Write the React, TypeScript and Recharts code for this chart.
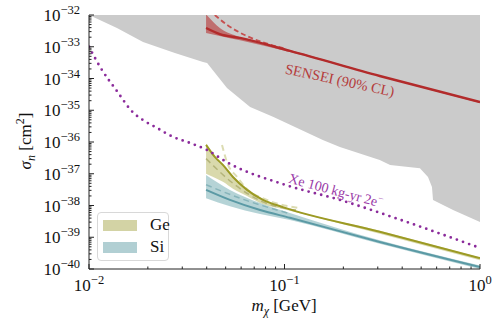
import React from 'react';
import { ComposedChart, Area, Line, XAxis, YAxis, ReferenceDot } from 'recharts';

const FONT = '"Liberation Serif", "DejaVu Serif", serif';

// excluded region (grey), lower edge; top edge is the plot top
const exclMass = [0.01, 0.0139, 0.0189, 0.0275, 0.0383, 0.0402, 0.0508, 0.0667, 0.0873, 0.157, 0.192, 0.307, 0.347, 0.493, 0.542, 0.568, 0.575, 0.728, 1.0];
const exclSigma = [1e-32, 3.9e-33, 1.4e-33, 6.3e-34, 3.3e-34, 3.1e-34, 5.0e-35, 1.26e-35, 6.2e-36, 1.15e-36, 6.9e-37, 2.7e-37, 1.9e-37, 1.5e-37, 7.9e-38, 3.8e-38, 1.5e-38, 7.2e-39, 3.0e-39];

// SENSEI 90% CL
const senseiMass = [0.0397, 0.0467, 0.0592, 0.1066, 0.307, 1.0];
const senseiLine = [3.9e-33, 2.5e-33, 1.9e-33, 7.4e-34, 1.2e-34, 1.8e-35];
const senseiHi = [1.05e-32, 3.9e-33, 2.0e-33, 7.9e-34, 1.25e-34, 1.9e-35];
const senseiLo = [2.7e-33, 2.2e-33, 1.6e-33, 6.8e-34, 1.15e-34, 1.7e-35];
const senseiDashMass = [0.044, 0.0508, 0.063, 0.077, 0.1];
const senseiDash = [1e-32, 4.9e-33, 2.3e-33, 1.4e-33, 8.9e-34];

// Xe 100 kg-yr 2e-
const xeMass = [0.01, 0.0114, 0.0139, 0.0168, 0.0189, 0.0223, 0.0269, 0.0329, 0.0401, 0.0514, 0.1007, 0.192, 0.424, 1.0];
const xeSigma = [1e-33, 2.3e-34, 4e-35, 8.5e-36, 4.9e-36, 2.75e-36, 1.45e-36, 9.3e-37, 5.6e-37, 2.2e-37, 4.5e-38, 1.5e-38, 3.0e-39, 4.6e-40];

// Ge
const geMass = [0.0397, 0.044, 0.0484, 0.0545, 0.0643, 0.0776, 0.098, 0.307, 1.0];
const geLine = [8.1e-37, 3.4e-37, 1.9e-37, 7.9e-38, 3.1e-38, 1.5e-38, 8.9e-39, 1.5e-39, 2.2e-40];
const geHi = [9e-37, 3.6e-37, 2.0e-37, 8.3e-38, 3.3e-38, 1.6e-38, 9.3e-39, 1.6e-39, 2.3e-40];
const geLo = [1.0e-37, 7.5e-38, 5.6e-38, 3.4e-38, 2.0e-38, 1.1e-38, 7.8e-39, 1.3e-39, 1.9e-40];
const geDashMass = [0.0479, 0.0508, 0.0572, 0.065, 0.0813, 0.12];
const geDash = [8.1e-37, 2.3e-37, 7.9e-38, 3.1e-38, 1.5e-38, 8.3e-39];
const geDash2Mass = [0.0397, 0.0545, 0.0776, 0.12];
const geDash2 = [3e-37, 5e-38, 1.3e-38, 7e-39];

// Si
const siMass = [0.0397, 0.0526, 0.075, 0.1066, 0.307, 1.0];
const siLine = [3.1e-38, 1.5e-38, 7.2e-39, 4.1e-39, 7.1e-40, 1.15e-40];
const siHi = [9.1e-38, 3.1e-38, 1.2e-38, 5.8e-39, 8e-40, 1.3e-40];
const siLo = [1.7e-38, 9.5e-39, 5.4e-39, 3.5e-39, 6.2e-40, 1e-40];
const siDashMass = [0.0397, 0.0592, 0.1066];
const siDash = [4.5e-38, 1.7e-38, 5.5e-39];

const xMajor = [0.01, 0.1, 1];
const yMajor = [1e-40, 1e-39, 1e-38, 1e-37, 1e-36, 1e-35, 1e-34, 1e-33, 1e-32];

const withMinor = (majors: number[]) => {
  const out: number[] = [];
  majors.forEach((m, i) => {
    out.push(m);
    if (i < majors.length - 1) for (let k = 2; k <= 9; k++) out.push(m * k);
  });
  return out;
};
const xTicks = withMinor(xMajor);
const yTicks = withMinor(yMajor);

const pts = (m: number[], s: number[]) => m.map((x, i) => ({ m: x, s: s[i] }));
const band = (m: number[], lo: number[], hi: number[]) => m.map((x, i) => ({ m: x, r: [lo[i], hi[i]] }));

const exclData = exclMass.map((x, i) => ({ m: x, r: [exclSigma[i], 1e-32] }));

const isMajor = (v: number) => {
  const e = Math.log10(v);
  return Math.abs(e - Math.round(e)) < 1e-6;
};
const expo = (v: number) => {
  const e = Math.round(Math.log10(v));
  return e < 0 ? '\u2212' + Math.abs(e) : String(e);
};

const makeTick = (side: string) => (props: any) => {
  const { x, y, payload } = props;
  const v = payload.value;
  const major = isMajor(v);
  const len = major ? 5 : 2.5;
  let tl = null;
  if (side === 'left') tl = <line x1={x} x2={x + len} y1={y} y2={y} stroke="#222" />;
  if (side === 'right') tl = <line x1={x} x2={x - len} y1={y} y2={y} stroke="#222" />;
  if (side === 'bottom') tl = <line x1={x} x2={x} y1={y} y2={y - len} stroke="#222" />;
  if (side === 'top') tl = <line x1={x} x2={x} y1={y} y2={y + len} stroke="#222" />;
  let lab = null;
  if (major && side === 'left') {
    lab = (
      <text x={x - 9} y={y + 6} textAnchor="end" fontFamily={FONT} fontSize={17} fill="#111">
        10<tspan dy={-7} fontSize={12.5}>{expo(v)}</tspan>
      </text>
    );
  }
  if (major && side === 'bottom') {
    lab = (
      <text x={x} y={y + 22} textAnchor="middle" fontFamily={FONT} fontSize={17} fill="#111">
        10<tspan dy={-7} fontSize={12.5}>{expo(v)}</tspan>
      </text>
    );
  }
  return (
    <g>
      {tl}
      {lab}
    </g>
  );
};

const YLabel = () => (
  <text x={31} y={141} transform="rotate(-90 31 141)" textAnchor="middle" fontFamily={FONT} fontSize={17} fill="#111">
    <tspan fontStyle="italic">σ</tspan>
    <tspan fontStyle="italic" fontSize={12} dy={4}>n</tspan>
    <tspan dy={-4}> [cm</tspan>
    <tspan fontSize={12} dy={-7}>2</tspan>
    <tspan dy={7}>]</tspan>
  </text>
);

const XLabel = () => (
  <text x={284} y={311} textAnchor="middle" fontFamily={FONT} fontSize={17} fill="#111">
    <tspan fontStyle="italic">m</tspan>
    <tspan fontStyle="italic" fontSize={12} dy={4}>χ</tspan>
    <tspan dy={-4}> [GeV]</tspan>
  </text>
);

const rotatedText = (txt: React.ReactNode, angle: number, color: string, size: number) => (p: any) => (
  <text
    x={p.cx}
    y={p.cy}
    textAnchor="middle"
    dominantBaseline="central"
    transform={`rotate(${angle} ${p.cx} ${p.cy})`}
    fontFamily={FONT}
    fontSize={size}
    fill={color}
  >
    {txt}
  </text>
);

export default function App() {
  return (
    <div style={{ position: 'absolute', left: 0, top: 0, width: 493, height: 320, background: '#fff' }}>
      <ComposedChart width={493} height={320} margin={{ top: 15, right: 13, bottom: 0, left: 0 }}>
        <XAxis
          xAxisId="b"
          type="number"
          dataKey="m"
          scale="log"
          domain={[0.01, 1]}
          allowDataOverflow
          ticks={xTicks}
          interval={0}
          height={51}
          tickSize={0}
          tickMargin={0}
          tickLine={false}
          axisLine={{ stroke: '#222' }}
          tick={makeTick('bottom')}
          label={{ content: () => <XLabel /> }}
        />
        <XAxis
          xAxisId="t"
          orientation="top"
          type="number"
          dataKey="m"
          scale="log"
          domain={[0.01, 1]}
          allowDataOverflow
          ticks={xTicks}
          interval={0}
          height={0}
          tickSize={0}
          tickMargin={0}
          tickLine={false}
          axisLine={{ stroke: '#222' }}
          tick={makeTick('top')}
        />
        <YAxis
          yAxisId="l"
          type="number"
          scale="log"
          domain={[1e-40, 1e-32]}
          allowDataOverflow
          ticks={yTicks}
          interval={0}
          width={89}
          tickSize={0}
          tickMargin={0}
          tickLine={false}
          axisLine={{ stroke: '#222' }}
          tick={makeTick('left')}
          label={{ content: () => <YLabel /> }}
        />
        <YAxis
          yAxisId="r"
          orientation="right"
          type="number"
          scale="log"
          domain={[1e-40, 1e-32]}
          allowDataOverflow
          ticks={yTicks}
          interval={0}
          width={0}
          tickSize={0}
          tickMargin={0}
          tickLine={false}
          axisLine={{ stroke: '#222' }}
          tick={makeTick('right')}
        />

        <Area xAxisId="b" yAxisId="l" data={exclData} dataKey="r" type="linear" fill="#cbcbcb" fillOpacity={1} stroke="none" isAnimationActive={false} />

        <Area xAxisId="b" yAxisId="l" data={band(senseiMass, senseiLo, senseiHi)} dataKey="r" type="monotone" fill="#b83232" fillOpacity={0.6} stroke="none" isAnimationActive={false} />
        <Line xAxisId="b" yAxisId="l" data={pts(senseiDashMass, senseiDash)} dataKey="s" type="monotone" stroke="#c65050" strokeWidth={1.8} strokeDasharray="5 3" dot={false} isAnimationActive={false} />
        <Line xAxisId="b" yAxisId="l" data={pts(senseiMass, senseiLine)} dataKey="s" type="monotone" stroke="#b22b2b" strokeWidth={2.5} dot={false} isAnimationActive={false} />

        <Area xAxisId="b" yAxisId="l" data={band(geMass, geLo, geHi)} dataKey="r" type="monotone" fill="#d2d29e" fillOpacity={0.85} stroke="none" isAnimationActive={false} />
        <Area xAxisId="b" yAxisId="l" data={band(siMass, siLo, siHi)} dataKey="r" type="monotone" fill="#a3c8cc" fillOpacity={0.8} stroke="none" isAnimationActive={false} />
        <Line xAxisId="b" yAxisId="l" data={pts(geDashMass, geDash)} dataKey="s" type="monotone" stroke="#dcdcb2" strokeWidth={2} strokeDasharray="6 4" dot={false} isAnimationActive={false} />
        <Line xAxisId="b" yAxisId="l" data={pts(geDash2Mass, geDash2)} dataKey="s" type="monotone" stroke="#b4b47a" strokeWidth={1.5} strokeDasharray="6 4" dot={false} isAnimationActive={false} />
        <Line xAxisId="b" yAxisId="l" data={pts(siDashMass, siDash)} dataKey="s" type="monotone" stroke="#86b4ba" strokeWidth={1.5} strokeDasharray="6 4" dot={false} isAnimationActive={false} />
        <Line xAxisId="b" yAxisId="l" data={pts(geMass, geLine)} dataKey="s" type="monotone" stroke="#9c9a24" strokeWidth={2} dot={false} isAnimationActive={false} />
        <Line xAxisId="b" yAxisId="l" data={pts(siMass, siLine)} dataKey="s" type="monotone" stroke="#5b9aa5" strokeWidth={2} dot={false} isAnimationActive={false} />

        <Line xAxisId="b" yAxisId="l" data={pts(xeMass, xeSigma)} dataKey="s" type="monotone" stroke="#8b2b9b" strokeWidth={2.8} strokeLinecap="round" strokeDasharray="0 6.5" dot={false} isAnimationActive={false} />

        <ReferenceDot xAxisId="b" yAxisId="l" x={0.192} y={8.9e-35} r={0} ifOverflow="visible"
          shape={rotatedText('SENSEI (90% CL)', 12, '#b53c3c', 14.5)} />
        <ReferenceDot xAxisId="b" yAxisId="l" x={0.183} y={2.9e-38} r={0} ifOverflow="visible"
          shape={rotatedText(<>Xe 100 kg-yr 2e<tspan dy={-5} fontSize={10}>−</tspan></>, 15, '#9a3aa8', 14)} />
      </ComposedChart>

      <div
        style={{
          position: 'absolute', left: 97, top: 212, width: 72, height: 49,
          border: '1px solid #d8d8d8', borderRadius: 4, background: 'rgba(255,255,255,0.85)',
          fontFamily: FONT, fontSize: 17, color: '#111', boxSizing: 'border-box',
        }}
      >
        {[
          { name: 'Ge', color: '#d3d3a5' },
          { name: 'Si', color: '#b1cfd3' },
        ].map((it, i) => (
          <div key={it.name} style={{ position: 'absolute', left: 5, top: 5 + i * 22, display: 'flex', alignItems: 'center' }}>
            <div style={{ width: 34, height: 11, background: it.color }} />
            <span style={{ marginLeft: 13, lineHeight: '14px' }}>{it.name}</span>
          </div>
        ))}
      </div>
    </div>
  );
}
